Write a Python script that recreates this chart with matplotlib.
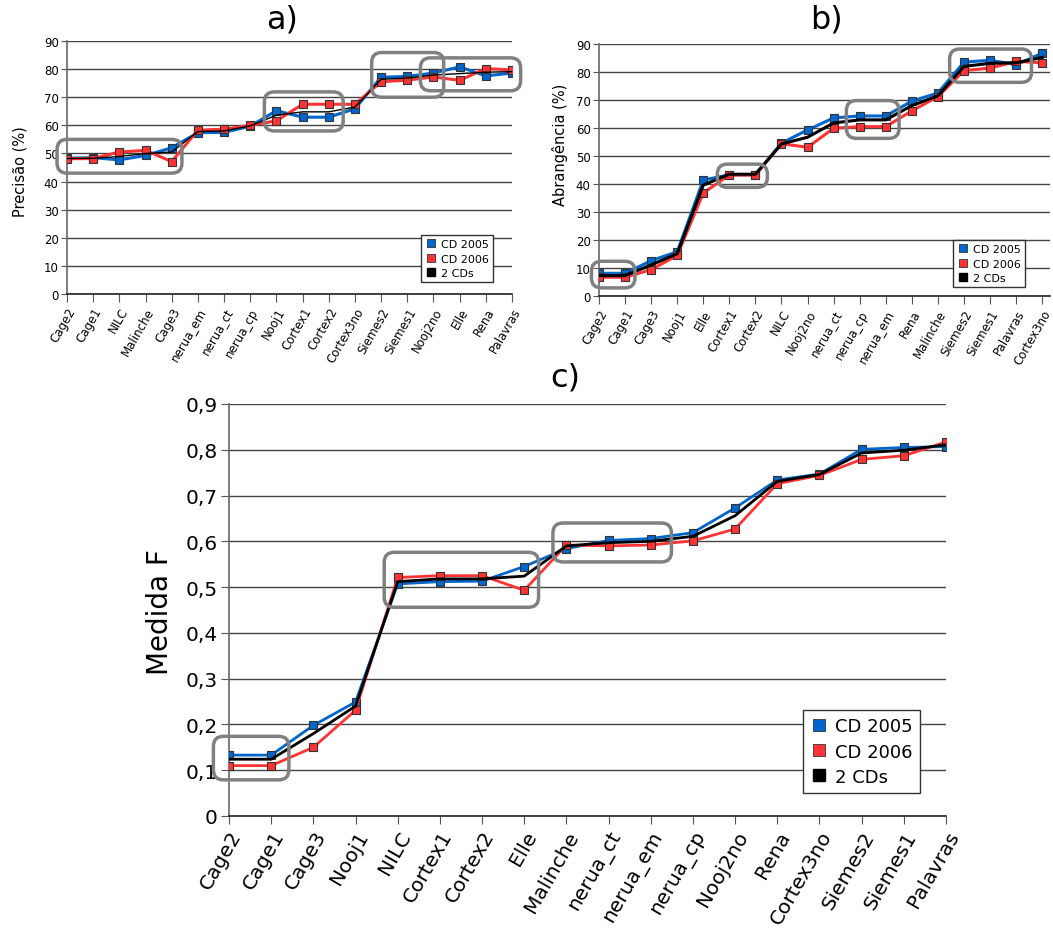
import matplotlib.pyplot as plt
from matplotlib.lines import Line2D
from matplotlib.patches import FancyBboxPatch
from matplotlib.ticker import FuncFormatter

# Dados - painel a) Precisão
cats_a = ['Cage2', 'Cage1', 'NILC', 'Malinche', 'Cage3', 'nerua_em', 'nerua_ct', 'nerua_cp', 'Nooj1',
          'Cortex1', 'Cortex2', 'Cortex3no', 'Siemes2', 'Siemes1', 'Nooj2no', 'Elle', 'Rena', 'Palavras']
a_2005 = [48.3, 48.5, 47.7, 49.3, 52.0, 57.4, 57.5, 59.7, 65.2, 62.9, 62.9, 65.9, 77.1, 77.4, 78.6, 80.8, 77.6, 78.6]
a_2006 = [48.1, 48.2, 50.5, 51.1, 47.1, 58.3, 58.6, 60.0, 61.6, 67.5, 67.5, 67.5, 75.5, 76.1, 77.2, 76.0, 80.2, 79.7]
a_both = [48.2, 48.3, 48.9, 50.0, 50.5, 57.8, 58.0, 59.8, 63.6, 64.8, 64.8, 66.5, 76.4, 76.8, 77.9, 78.4, 78.9, 79.1]

# Dados - painel b) Abrangência
cats_b = ['Cage2', 'Cage1', 'Cage3', 'Nooj1', 'Elle', 'Cortex1', 'Cortex2', 'NILC', 'Nooj2no',
          'nerua_ct', 'nerua_cp', 'nerua_em', 'Rena', 'Malinche', 'Siemes2', 'Siemes1', 'Palavras', 'Cortex3no']
b_2005 = [8.1, 8.1, 12.6, 15.8, 41.4, 43.3, 43.3, 54.6, 59.3, 63.6, 64.3, 64.3, 69.6, 72.5, 83.5, 84.2, 82.6, 86.7]
b_2006 = [6.7, 6.7, 9.4, 14.5, 36.8, 43.2, 43.2, 54.4, 53.1, 59.9, 60.5, 60.5, 66.1, 71.2, 80.5, 81.4, 83.8, 83.3]
b_both = [7.3, 7.3, 11.1, 15.1, 39.6, 43.5, 43.5, 54.3, 56.7, 61.8, 62.9, 62.9, 68.0, 71.5, 82.0, 83.1, 83.3, 85.2]

# Dados - painel c) Medida F
cats_c = ['Cage2', 'Cage1', 'Cage3', 'Nooj1', 'NILC', 'Cortex1', 'Cortex2', 'Elle', 'Malinche',
          'nerua_ct', 'nerua_em', 'nerua_cp', 'Nooj2no', 'Rena', 'Cortex3no', 'Siemes2', 'Siemes1', 'Palavras']
c_2005 = [0.133, 0.133, 0.198, 0.249, 0.507, 0.512, 0.513, 0.545, 0.584, 0.602, 0.606, 0.619, 0.673, 0.734, 0.747, 0.801, 0.805, 0.807]
c_2006 = [0.110, 0.110, 0.150, 0.231, 0.521, 0.525, 0.525, 0.493, 0.592, 0.590, 0.592, 0.601, 0.627, 0.726, 0.744, 0.779, 0.787, 0.817]
c_both = [0.124, 0.124, 0.180, 0.240, 0.512, 0.518, 0.518, 0.524, 0.590, 0.597, 0.600, 0.611, 0.656, 0.731, 0.746, 0.793, 0.799, 0.811]

# Caixas de destaque (x0, x1, y0, y1) em coordenadas dos dados
boxes_a = [(-0.38, 4.39, 43.0, 55.0), (7.54, 10.55, 58.0, 71.9), (11.64, 14.39, 70.0, 85.9), (13.5, 17.33, 72.3, 84.0)]
boxes_b = [(-0.29, 1.38, 2.9, 12.4), (4.54, 6.46, 38.8, 47.1), (9.49, 11.51, 56.3, 69.8), (13.45, 16.59, 76.3, 88.2)]
boxes_c = [(-0.37, 1.42, 0.079, 0.174), (3.68, 7.34, 0.456, 0.576), (7.68, 10.49, 0.555, 0.640)]

BLUE = '#0066cc'
RED = '#ff3333'
W, H = 1053, 937

fig = plt.figure(figsize=(W / 100, H / 100), dpi=100)


def draw_panel(rect, cats, s05, s06, sboth, boxes, ylim, yticks, fs, lw_black, ms, lw, xmax):
    ax = fig.add_axes(rect)
    x = list(range(len(cats)))
    ax.plot(x, s05, color=BLUE, lw=lw, marker='s', ms=ms, mfc=BLUE, mec='#333333', mew=0.8, zorder=3)
    ax.plot(x, s06, color=RED, lw=lw, marker='s', ms=ms, mfc=RED, mec='#333333', mew=0.8, zorder=4)
    ax.plot(x, sboth, color='black', lw=lw_black, zorder=5)
    ax.set_xlim(0, xmax)
    ax.set_ylim(*ylim)
    ax.set_yticks(yticks)
    ax.set_xticks(x)
    ax.set_xticklabels(cats, rotation=60, ha='right', rotation_mode='anchor', fontsize=fs)
    ax.tick_params(axis='y', labelsize=fs, length=4, color='#555555', pad=2)
    ax.tick_params(axis='x', length=6, color='#555555', pad=2)
    ax.grid(True, axis='y', color='#444444', lw=1)
    ax.set_axisbelow(True)
    for s in ['top', 'right']:
        ax.spines[s].set_visible(False)
    ax.spines['left'].set_color('#666666')
    ax.spines['bottom'].set_color('#222222')
    for s in ['left', 'bottom']:
        ax.spines[s].set_linewidth(1.2)

    # caixas arredondadas (cantos circulares em pixels)
    p0 = ax.transData.transform((0, 0))
    p1 = ax.transData.transform((1, 1))
    px_x = p1[0] - p0[0]
    px_y = p1[1] - p0[1]
    r = 10 / px_x
    for (x0, x1, y0, y1) in boxes:
        patch = FancyBboxPatch((x0, y0), x1 - x0, y1 - y0,
                               boxstyle='round,pad=0,rounding_size=%f' % r,
                               mutation_aspect=px_x / px_y,
                               fc='none', ec='#808080', lw=2.5, clip_on=False, zorder=6)
        ax.add_patch(patch)
    return ax


def legend(ax, anchor, fs, ms):
    handles = [Line2D([], [], ls='none', marker='s', ms=ms, mfc=BLUE, mec='#333333', mew=0.6),
               Line2D([], [], ls='none', marker='s', ms=ms, mfc=RED, mec='#333333', mew=0.6),
               Line2D([], [], ls='none', marker='s', ms=ms, mfc='black', mec='black')]
    leg = ax.legend(handles, ['CD 2005', 'CD 2006', '2 CDs'], loc='lower right',
                    bbox_to_anchor=anchor, bbox_transform=fig.transFigure, fontsize=fs,
                    fancybox=False, framealpha=1, edgecolor='#333333', handletextpad=0.4,
                    borderpad=0.4, labelspacing=0.4, handlelength=1.0)
    leg.get_frame().set_linewidth(1)
    leg.set_zorder(10)


# Painel a)
ax_a = draw_panel([67 / W, 1 - 295 / H, 445 / W, 253 / H], cats_a, a_2005, a_2006, a_both, boxes_a,
                  (0, 90), range(0, 91, 10), 8.5, 1.0, 6, 2.2, 17)
legend(ax_a, (499 / W, 1 - 289 / H), 8, 6)

# Painel b)
ax_b = draw_panel([599 / W, 1 - 297 / H, 451 / W, 252 / H], cats_b, b_2005, b_2006, b_both, boxes_b,
                  (0, 90), range(0, 91, 10), 8.5, 2.2, 6, 2.2, 17.3)
legend(ax_b, (1031 / W, 1 - 294 / H), 8, 6)

# Painel c)
ax_c = draw_panel([229 / W, 1 - 817 / H, 717 / W, 412 / H], cats_c, c_2005, c_2006, c_both, boxes_c,
                  (0, 0.9), [i / 10 for i in range(10)], 14.5, 2.0, 6, 2.0, 17)
ax_c.yaxis.set_major_formatter(FuncFormatter(lambda v, p: '0' if v == 0 else ('%.1f' % v).replace('.', ',')))
ax_c.tick_params(axis='y', length=6)
legend(ax_c, (929 / W, 1 - 803 / H), 13, 8)

# Rótulos e títulos
fig.text(20 / W, 1 - 172 / H, 'Precisão (%)', rotation=90, ha='center', va='center', fontsize=10.5)
fig.text(560 / W, 1 - 145 / H, 'Abrangência (%)', rotation=90, ha='center', va='center', fontsize=10.5)
fig.text(160 / W, 1 - 612 / H, 'Medida F', rotation=90, ha='center', va='center', fontsize=20)
fig.text(282 / W, 1 - 20 / H, 'a)', ha='center', va='center', fontsize=23)
fig.text(826 / W, 1 - 20 / H, 'b)', ha='center', va='center', fontsize=23)
fig.text(565 / W, 1 - 378 / H, 'c)', ha='center', va='center', fontsize=23)

plt.savefig('out.png', dpi=100)
